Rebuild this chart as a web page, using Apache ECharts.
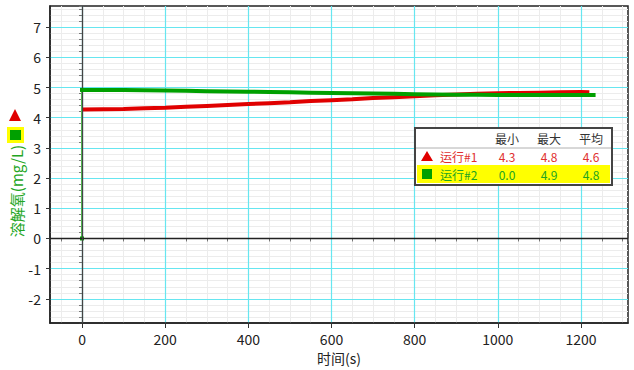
<!DOCTYPE html>
<html>
<head>
<meta charset="utf-8">
<script src="https://cdn.jsdelivr.net/npm/echarts@6/dist/echarts.min.js"></script>
<style>
html,body{margin:0;padding:0;background:#fff;}
#c{width:634px;height:370px;}
</style>
</head>
<body>
<div id="c"></div>
<script>
// ---- data ----
const time1 = [0,50,100,150,200,250,300,350,400,450,500,550,600,650,700,750,800,850,900,950,1000,1050,1100,1150,1200,1220];
const run1  = [4.27,4.28,4.29,4.31,4.33,4.36,4.39,4.42,4.45,4.48,4.51,4.55,4.58,4.61,4.65,4.68,4.71,4.74,4.77,4.79,4.81,4.82,4.83,4.84,4.85,4.84];
const time2 = [0,0,50,100,150,200,250,300,350,400,450,500,550,600,650,700,750,800,850,900,950,1000,1050,1100,1150,1200,1235];
const run2  = [0.0,4.92,4.92,4.92,4.91,4.90,4.89,4.88,4.87,4.86,4.85,4.84,4.83,4.82,4.81,4.80,4.79,4.78,4.77,4.76,4.76,4.75,4.75,4.75,4.75,4.75,4.75];
const xTicks = [0,200,400,600,800,1000,1200];
const yTicks = [-2,-1,0,1,2,3,4,5,6,7];
const xRange = [-77, 1313];
const yRange = [-2.8, 7.7];
const legendHeader = ['最小','最大','平均'];
const legendRows = [
  {name:'运行#1', stats:['4.3','4.8','4.6']},
  {name:'运行#2', stats:['0.0','4.9','4.8']}
];
const xName = '时间(s)';
const yName = '溶解氧(mg/L)';

// ---- styling ----
const FONT = '"Noto Sans CJK JP","Noto Sans CJK SC",sans-serif';
const RED = '#e00000', GREEN = '#00a000';
const RED_T = '#e03030', GREEN_T = '#22a522';

const d1 = time1.map((t,i)=>[t,run1[i]]);
const d2 = time2.map((t,i)=>[t,run2[i]]);

const chart = echarts.init(document.getElementById('c'), null, {renderer:'svg'});

function fmt(ticks){ return v => ticks.some(t=>Math.abs(t-v)<1e-6) ? String(v) : ''; }
function txt(x, y, s, color, align){
  return {type:'text', x:x, y:y, z:22,
    style:{text:s, fill:color, font:'12px '+FONT, align:align||'center', verticalAlign:'middle'}};
}

const colX = [507, 549, 591];
const rowY = [156, 174];
const rowColor = [RED_T, GREEN_T];
const tableTexts = [];
legendHeader.forEach((h,i)=>tableTexts.push(txt(colX[i], 138, h, '#333')));
legendRows.forEach((r,ri)=>{
  tableTexts.push(txt(440, rowY[ri], r.name, rowColor[ri], 'left'));
  r.stats.forEach((s,ci)=>tableTexts.push(txt(colX[ci], rowY[ri], s, rowColor[ri])));
});

const option = {
  animation:false,
  backgroundColor:'#fff',
  textStyle:{fontFamily:FONT},
  grid:{left:50, right:6, top:6, bottom:44, show:true, borderColor:'#222', borderWidth:1.5, backgroundColor:'transparent'},
  xAxis:[
    {type:'value', min:xRange[0], max:xRange[1], minInterval:200, maxInterval:200, z:1,
     name:xName, nameLocation:'middle', nameGap:28,
     nameTextStyle:{color:'#222', fontSize:14, fontFamily:FONT},
     axisLine:{show:true, onZero:false, lineStyle:{color:'#222', width:1.5}},
     axisTick:{show:true, length:5, lineStyle:{color:'#333'}},
     axisLabel:{color:'#222', fontSize:14, margin:9, fontFamily:FONT, formatter:fmt(xTicks), showMinLabel:false, showMaxLabel:false},
     splitLine:{show:true, showMinLine:false, showMaxLine:false, lineStyle:{color:'#66e6f0', width:1.2}}},
    {type:'value', min:xRange[0], max:xRange[1], minInterval:50, maxInterval:50, z:0, position:'bottom',
     axisLine:{show:false}, axisLabel:{show:false},
     axisTick:{show:true, length:3, lineStyle:{color:'#777'}},
     splitLine:{show:true, showMinLine:false, showMaxLine:false, lineStyle:{color:'#ececec', width:1}}}
  ],
  yAxis:[
    {type:'value', min:yRange[0], max:yRange[1], minInterval:1, maxInterval:1, z:1,
     axisLine:{show:true, onZero:false, lineStyle:{color:'#222', width:1.5}},
     axisTick:{show:true, length:4, lineStyle:{color:'#333'}},
     axisLabel:{color:'#222', fontSize:14, margin:9, fontFamily:FONT, formatter:fmt(yTicks), showMinLabel:false, showMaxLabel:false},
     splitLine:{show:true, showMinLine:false, showMaxLine:false, lineStyle:{color:'#66e6f0', width:1.2}}},
    {type:'value', min:yRange[0], max:yRange[1], minInterval:0.2, maxInterval:0.2, z:0, position:'left',
     axisLine:{show:false}, axisLabel:{show:false},
     axisTick:{show:true, length:3, lineStyle:{color:'#777'}},
     splitLine:{show:true, showMinLine:false, showMaxLine:false, lineStyle:{color:'#ececec', width:1}}}
  ],
  series:[
    {type:'line', name:legendRows[0].name, data:d1, xAxisIndex:0, yAxisIndex:0, showSymbol:false, symbol:'none',
     lineStyle:{color:RED, width:4}, z:3,
     markLine:{silent:true, symbol:'none', label:{show:false}, animation:false,
       lineStyle:{color:'#222', width:1.3, type:'solid'},
       data:[{yAxis:0},{xAxis:0, lineStyle:{color:'#444', width:1.3, type:'solid'}}]}},
    {type:'line', name:'v', data:d2.slice(0,2), xAxisIndex:0, yAxisIndex:0, showSymbol:true, symbol:'rect', symbolSize:[4,4],
     itemStyle:{color:GREEN}, lineStyle:{color:'#55c855', width:2}, z:4},
    {type:'line', name:legendRows[1].name, data:d2.slice(1), xAxisIndex:0, yAxisIndex:0, showSymbol:false, symbol:'none',
     lineStyle:{color:GREEN, width:4}, z:5}
  ],
  graphic:[
    // y axis name with symbols
    {type:'polygon', shape:{points:[[9,121],[15,109],[21,121]]}, style:{fill:RED}, z:10},
    {type:'rect', shape:{x:7,y:127,width:17,height:16}, style:{fill:'#ffff00'}, z:10},
    {type:'rect', shape:{x:10,y:130,width:11,height:10}, style:{fill:GREEN}, z:11},
    {type:'text', x:16, y:191, rotation:Math.PI/2, z:10,
     style:{text:yName, fill:GREEN_T, font:'15px '+FONT, align:'center', verticalAlign:'middle'}},
    // legend table
    {type:'rect', shape:{x:415,y:128,width:197,height:57}, style:{fill:'#fff', stroke:'#444', lineWidth:2}, z:20},
    {type:'line', shape:{x1:416,y1:148,x2:611,y2:148}, style:{stroke:'#b0b0b0', lineWidth:1}, z:21},
    {type:'rect', shape:{x:417,y:165,width:193,height:18}, style:{fill:'#ffff00'}, z:21},
    {type:'polygon', shape:{points:[[421,161],[427,151],[433,161]]}, style:{fill:RED}, z:22},
    {type:'rect', shape:{x:422,y:169,width:10,height:10}, style:{fill:GREEN}, z:22}
  ].concat(tableTexts)
};
chart.setOption(option);
</script>
</body>
</html>
